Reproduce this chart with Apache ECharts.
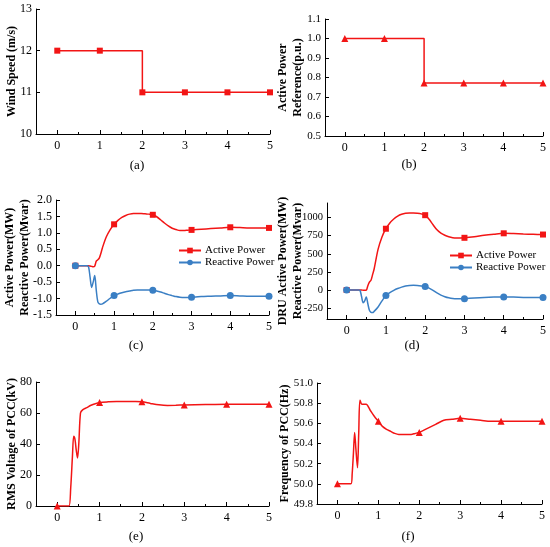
<!DOCTYPE html>
<html><head><meta charset="utf-8">
<script src="https://cdn.jsdelivr.net/npm/echarts@6/dist/echarts.min.js"></script>
<style>html,body{margin:0;padding:0;background:#fff}#c{width:550px;height:547px}</style>
</head><body><div id="c"></div>
<script>
// ---- data ----
const xTicks = [0, 1, 2, 3, 4, 5];
const xMinorTicks = [0.5, 1.5, 2.5, 3.5, 4.5];
const dTicks = [-250, 0, 250, 500, 750, 1000];

const windTime = [0, 1, 2, 3, 4, 5];
const windSpeed = [12, 12, 11, 11, 11, 11];

const refTime = [0, 1, 2, 3, 4, 5];
const refPower = [1.0, 1.0, 0.772, 0.772, 0.772, 0.772];

const tC = [0,0.1,0.2,0.3,0.34,0.38,0.42,0.46,0.5,0.54,0.58,0.62,0.66,0.7,0.8,0.9,1.0,1.1,1.2,1.3,1.4,1.5,1.6,1.7,1.8,1.9,2.0,2.1,2.2,2.3,2.4,2.5,2.6,2.7,2.8,2.9,3.0,3.25,3.5,3.75,4.0,4.25,4.5,4.75,5.0];
const cActive = [0,0,0,0,0,-0.01,-0.02,-0.03,-0.01,0.14,0.18,0.24,0.38,0.55,0.88,1.1,1.26,1.38,1.47,1.53,1.57,1.59,1.59,1.59,1.58,1.57,1.55,1.49,1.40,1.30,1.21,1.14,1.10,1.07,1.07,1.08,1.09,1.11,1.13,1.15,1.17,1.16,1.15,1.15,1.15];
const cReactive = [0,0,0,0,-0.03,-0.35,-0.66,-0.5,-0.3,-0.75,-1.1,-1.16,-1.17,-1.16,-1.08,-0.99,-0.91,-0.86,-0.82,-0.79,-0.77,-0.75,-0.74,-0.74,-0.74,-0.74,-0.75,-0.77,-0.8,-0.84,-0.88,-0.91,-0.94,-0.96,-0.97,-0.97,-0.96,-0.94,-0.93,-0.92,-0.91,-0.92,-0.93,-0.93,-0.93];

const tD = [0,0.1,0.2,0.3,0.34,0.38,0.42,0.46,0.5,0.54,0.58,0.62,0.66,0.7,0.8,0.9,1.0,1.1,1.2,1.3,1.4,1.5,1.6,1.7,1.8,1.9,2.0,2.1,2.2,2.3,2.4,2.5,2.6,2.7,2.8,2.9,3.0,3.25,3.5,3.75,4.0,4.25,4.5,4.75,5.0];
const dActive = [0,0,0,0,0,0,-3,-5,-3,60,110,135,210,290,560,730,845,925,980,1020,1045,1058,1062,1062,1058,1050,1032,975,900,830,785,755,735,722,718,718,720,735,755,770,782,778,772,768,765];
const dReactive = [0,0,0,0,-5,-90,-175,-150,-97,-190,-280,-308,-312,-295,-235,-150,-75,-35,-5,20,40,55,62,64,62,56,47,25,-5,-40,-70,-92,-108,-118,-122,-122,-120,-110,-102,-97,-95,-98,-102,-104,-105];

const tE = [0,0.1,0.2,0.28,0.32,0.36,0.39,0.42,0.45,0.48,0.51,0.55,0.6,0.7,0.8,0.9,1.0,1.2,1.4,1.6,1.8,2.0,2.2,2.4,2.6,2.8,3.0,3.5,4.0,4.5,5.0];
const eVoltage = [0,0,0,0,12,32,45,43,36,31,40,60,62,63.5,65,66,66.7,67.2,67.5,67.5,67.4,67.2,66.2,65.3,64.9,65,65.2,65.5,65.7,65.7,65.7];

const tF = [0,0.1,0.2,0.33,0.36,0.39,0.42,0.45,0.49,0.52,0.55,0.6,0.7,0.8,0.9,1.0,1.1,1.2,1.3,1.4,1.5,1.6,1.7,1.8,1.9,2.0,2.2,2.4,2.6,2.8,3.0,3.25,3.5,3.75,4.0,4.5,5.0];
const fFreq = [50,50,50,50,50.1,50.3,50.51,50.35,50.16,50.5,50.83,50.79,50.79,50.73,50.67,50.62,50.57,50.54,50.52,50.5,50.49,50.49,50.49,50.49,50.5,50.51,50.55,50.59,50.63,50.64,50.65,50.64,50.63,50.62,50.62,50.62,50.62];

const panelLabels = ['(a)', '(b)', '(c)', '(d)', '(e)', '(f)'];
const yNames = ['Wind Speed (m/s)', 'Active Power\nReference(p.u.)', 'Active Power(MW)\nReactive Power(Mvar)', 'DRU Active Power(MW)\nReactive Power(Mvar)', 'RMS Voltage of PCC(kV)', 'Frequency of PCC(Hz)'];
const legendNames = ['Active Power', 'Reactive Power'];

// ---- chart ----
const FONT = '"Liberation Serif", "Times New Roman", serif';
const RED = '#f21515';
const BLUE = '#3a7fc4';

const grids = [
  {left: 36, top: 9, width: 234, height: 125},
  {left: 325, top: 19, width: 218, height: 117},
  {left: 56, top: 200, width: 213, height: 115},
  {left: 327, top: 203, width: 216, height: 116},
  {left: 36, top: 382, width: 233, height: 124},
  {left: 317, top: 383, width: 225, height: 121}
];

const yCfg = [
  {min: 10, max: 13, interval: 1, gap: 16.5, size: 12, fmt: v => String(v)},
  {min: 0.5, max: 1.1, interval: 0.1, gap: 19.5, size: 11, fmt: v => v.toFixed(1)},
  {min: -1.5, max: 2.0, interval: 0.5, gap: 23.5, size: 12, fmt: v => v.toFixed(1)},
  {min: -400, max: 1200, custom: dTicks, gap: 21.5, size: 10.5, fmt: v => String(v)},
  {min: 0, max: 80, interval: 20, gap: 16.8, size: 12, fmt: v => String(v)},
  {min: 49.8, max: 51.0, interval: 0.2, gap: 24.5, size: 11, fmt: v => v.toFixed(1)}
];

const xAxis = [], yAxis = [];
grids.forEach((g, i) => {
  xAxis.push({
    gridIndex: i, type: 'value', min: -0.5, max: 5,
    axisLine: {onZero: false, lineStyle: {color: '#000', width: 1}},
    axisTick: {inside: true, length: 4, customValues: xTicks, lineStyle: {color: '#000'}},
    axisLabel: {customValues: xTicks, color: '#000', fontFamily: FONT, fontSize: 12, margin: 6},
    splitLine: {show: false}
  });
  xAxis.push({
    gridIndex: i, type: 'value', min: -0.5, max: 5, position: 'bottom',
    axisLine: {show: false, onZero: false},
    axisTick: {inside: true, length: 2, customValues: xMinorTicks, lineStyle: {color: '#000'}},
    axisLabel: {show: false},
    splitLine: {show: false}
  });
  const c = yCfg[i];
  const y = {
    gridIndex: i, type: 'value', min: c.min, max: c.max,
    name: yNames[i], nameLocation: 'middle', nameGap: c.gap, nameRotate: 90,
    nameMoveOverlap: false,
    nameTextStyle: {fontFamily: FONT, fontWeight: 'bold', fontSize: 12, color: '#000', lineHeight: 15},
    axisLine: {show: true, onZero: false, lineStyle: {color: '#000', width: 1}},
    axisTick: {show: true, inside: true, length: 4, lineStyle: {color: '#000'}},
    axisLabel: {color: '#000', fontFamily: FONT, fontSize: c.size, margin: 4, formatter: c.fmt},
    splitLine: {show: false}
  };
  if (c.custom) {
    y.axisTick.customValues = c.custom;
    y.axisLabel.customValues = c.custom;
  } else {
    y.interval = c.interval;
  }
  yAxis.push(y);
});

function pts(ts, ys, sym) {
  return ts.map((t, k) => ({value: [t, ys[k]], symbol: Number.isInteger(t) ? sym : 'none'}));
}
function lineSeries(i, name, data, color, sym, size, extra) {
  return Object.assign({
    type: 'line', name: name, xAxisIndex: i * 2, yAxisIndex: i,
    data: data, symbol: sym, symbolSize: size, showSymbol: true, showAllSymbol: true,
    smooth: 0.3, color: color,
    lineStyle: {color: color, width: 1.5}, itemStyle: {color: color},
    animation: false, z: 3
  }, extra || {});
}

const series = [
  lineSeries(0, 'wind', windTime.map((t, k) => [t, windSpeed[k]]), RED, 'rect', 6, {step: 'end', smooth: false}),
  lineSeries(1, 'ref', refTime.map((t, k) => [t, refPower[k]]), RED, 'triangle', 7, {step: 'end', smooth: false}),
  lineSeries(2, legendNames[0], pts(tC, cActive, 'rect'), RED, 'rect', 6),
  lineSeries(2, legendNames[1], pts(tC, cReactive, 'circle'), BLUE, 'circle', 7),
  lineSeries(3, legendNames[0], pts(tD, dActive, 'rect'), RED, 'rect', 6),
  lineSeries(3, legendNames[1], pts(tD, dReactive, 'circle'), BLUE, 'circle', 7),
  lineSeries(4, 'voltage', pts(tE, eVoltage, 'triangle'), RED, 'triangle', 7),
  lineSeries(5, 'frequency', pts(tF, fFreq, 'triangle'), RED, 'triangle', 7)
];

const legendBase = {
  data: legendNames, orient: 'vertical', itemWidth: 22, itemHeight: 7, itemGap: 1,
  selectedMode: false, padding: 0,
  textStyle: {fontFamily: FONT, fontSize: 11, color: '#000', padding: [0, 0, 0, -1]}
};

const labelPos = [[137, 166], [409, 165], [136, 346], [412, 346], [136, 537], [408, 537]];
const graphic = panelLabels.map((t, i) => ({
  type: 'text', x: labelPos[i][0], y: labelPos[i][1],
  style: {text: t, fontFamily: FONT, fontSize: 13, fill: '#000', align: 'center', verticalAlign: 'middle'}
}));

const chart = echarts.init(document.getElementById('c'), null, {renderer: 'canvas'});
chart.setOption({
  animation: false,
  backgroundColor: '#fff',
  grid: grids,
  xAxis: xAxis,
  yAxis: yAxis,
  legend: [
    Object.assign({}, legendBase, {left: 178, top: 245}),
    Object.assign({}, legendBase, {left: 449, top: 250})
  ],
  graphic: graphic,
  series: series
});
</script></body></html>
